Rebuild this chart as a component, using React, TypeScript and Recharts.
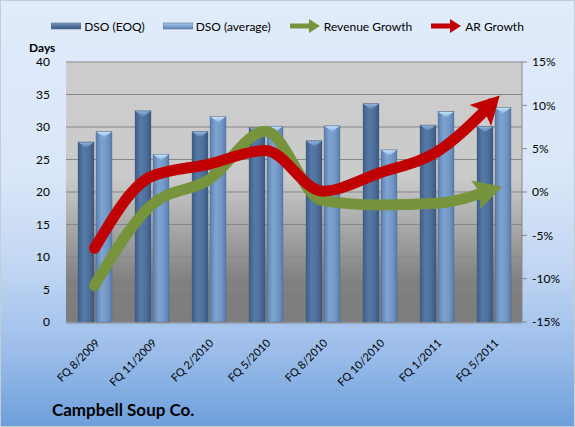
import React from "react";
import {
  ComposedChart,
  Bar,
  Line,
  XAxis,
  YAxis,
  CartesianGrid,
} from "recharts";

const categories = [
  "FQ 8/2009",
  "FQ 11/2009",
  "FQ 2/2010",
  "FQ 5/2010",
  "FQ 8/2010",
  "FQ 10/2010",
  "FQ 1/2011",
  "FQ 5/2011",
];
const dsoEoq = [27.7, 32.5, 29.3, 29.9, 27.9, 33.6, 30.3, 30.1];
const dsoAvg = [29.3, 25.8, 31.6, 30.1, 30.2, 26.5, 32.4, 33.0];
const revenueGrowth = [-10.8, -1.5, 1.4, 7.0, -1.0, -1.5, -1.3, 0.3];
const arGrowth = [-6.5, 1.8, 3.2, 4.8, 0.1, 2.2, 4.6, 10.4];
const daysTicks = [0, 5, 10, 15, 20, 25, 30, 35, 40];
const pctTicks = [-15, -10, -5, 0, 5, 10, 15];
const boundaryTicks = [0, 1, 2, 3, 4, 5, 6, 7, 8];

const data = categories.map((c, i) => ({
  name: c,
  idx: i + 0.5,
  eoq: dsoEoq[i],
  avg: dsoAvg[i],
  rev: revenueGrowth[i],
  ar: arGrowth[i],
}));

const FONT = "Lato, 'Liberation Sans', sans-serif";
const RED = "#C00000";
const GREEN = "#77933C";
const LINE_W = 11;

const makeBarShape = (grad: string, cap: string) => (props: any) => {
  const { x, y, width, height } = props;
  if (height == null || height <= 0) return null;
  return (
    <g>
      <rect x={x} y={y} width={width} height={height} fill={`url(#${grad})`} />
      <rect x={x} y={y} width={width} height={height} fill="none" stroke="rgba(60,80,110,0.35)" strokeWidth={0.8} />
      <polygon
        points={`${x + 0.5},${y + 0.5} ${x + width - 0.5},${y + 0.5} ${x + width / 2},${y + 6}`}
        fill={`url(#${cap})`}
      />
    </g>
  );
};

const makeArrowDot = (color: string, angleDeg: number, count: number) => (props: any) => {
  const { cx, cy, index } = props;
  if (cx == null || cy == null) return <g key={`d-${index}`} />;
  if (index === 0) {
    return <circle key={`d-${index}`} cx={cx} cy={cy} r={LINE_W / 2} fill={color} />;
  }
  if (index === count - 1) {
    const a = (angleDeg * Math.PI) / 180;
    const dx = Math.cos(a);
    const dy = Math.sin(a);
    const off = 9;
    const len = 28;
    const half = 15;
    const tx = cx + dx * off;
    const ty = cy + dy * off;
    const bx = tx - dx * len;
    const by = ty - dy * len;
    const px = -dy;
    const py = dx;
    const nx = tx - dx * (len - 6);
    const ny = ty - dy * (len - 6);
    const pts = [
      [tx, ty],
      [bx + px * half, by + py * half],
      [nx, ny],
      [bx - px * half, by - py * half],
    ]
      .map((p) => p.join(","))
      .join(" ");
    return <polygon key={`d-${index}`} points={pts} fill={color} />;
  }
  return <g key={`d-${index}`} />;
};

const XTick = (props: any) => {
  const { x, y, payload } = props;
  return (
    <g transform={`translate(${x + 3},${y + 10})`}>
      <text
        transform="rotate(-45)"
        textAnchor="end"
        fontSize={11}
        fontFamily={FONT}
        fill="#000"
        dy={4}
      >
        {payload.value}
      </text>
    </g>
  );
};

const LegendBarIcon = ({ light }: { light: boolean }) => (
  <svg width={30} height={8} style={{ verticalAlign: "middle" }}>
    <defs>
      <linearGradient id={light ? "lgL" : "lgD"} x1="0" y1="0" x2="0" y2="1">
        <stop offset="0" stopColor={light ? "#A9CDF0" : "#7E9CC4"} />
        <stop offset="0.5" stopColor={light ? "#7FA4D2" : "#4F6F99"} />
        <stop offset="1" stopColor={light ? "#5E84B5" : "#3B5A84"} />
      </linearGradient>
    </defs>
    <rect x={0} y={1} width={30} height={6} fill={`url(#${light ? "lgL" : "lgD"})`} stroke="#5A6F8C" strokeWidth={0.6} />
  </svg>
);

const LegendArrowIcon = ({ color }: { color: string }) => (
  <svg width={32} height={16} style={{ verticalAlign: "middle" }}>
    <path d="M1,5.5 L20,5.5 L20,1 L31,8 L20,15 L20,10.5 L1,10.5 Z" fill={color} />
  </svg>
);

const LegendContent = () => {
  const item: React.CSSProperties = {
    display: "inline-flex",
    alignItems: "center",
    gap: 3,
    fontSize: 12,
    fontFamily: FONT,
    color: "#000",
  };
  return (
    <div style={{ display: "flex", justifyContent: "center", gap: 18 }}>
      <span style={item}>
        <LegendBarIcon light={false} />
        DSO (EOQ)
      </span>
      <span style={item}>
        <LegendBarIcon light={true} />
        DSO (average)
      </span>
      <span style={item}>
        <LegendArrowIcon color={GREEN} />
        Revenue Growth
      </span>
      <span style={item}>
        <LegendArrowIcon color={RED} />
        AR Growth
      </span>
    </div>
  );
};

export default function App() {
  return (
    <div
      style={{
        position: "absolute",
        left: 0,
        top: 0,
        width: 575,
        height: 427,
        boxSizing: "border-box",
        border: "1px solid #C4CCD8",
        background:
          "linear-gradient(to bottom, #E0EBFB 0%, #DAE7F9 40%, #C2D7F3 62%, #9DBEEA 82%, #6D9FDB 100%)",
        fontFamily: FONT,
      }}
    >
      <div style={{ position: "absolute", left: 0, top: 17, width: 573 }}>
        <LegendContent />
      </div>
      <div
        style={{
          position: "absolute",
          left: 28,
          top: 39,
          fontSize: 12,
          fontWeight: 700,
          fontFamily: FONT,
        }}
      >
        Days
      </div>
      <div
        style={{
          position: "absolute",
          left: 51,
          top: 398,
          fontSize: 17,
          fontWeight: 700,
          fontFamily: FONT,
        }}
      >
        Campbell Soup Co.
      </div>
      <ComposedChart
        width={573}
        height={425}
        data={data}
        margin={{ top: 61, right: 0, bottom: 0, left: 0 }}
        barSize={16}
        barGap={2}
        style={{ position: "absolute", left: 0, top: 0 }}
      >
        <defs>
          <linearGradient id="plotBg" x1="0" y1="0" x2="0" y2="1">
            <stop offset="0" stopColor="#CDCDCD" />
            <stop offset="0.45" stopColor="#CACACA" />
            <stop offset="0.62" stopColor="#ABABAB" />
            <stop offset="0.85" stopColor="#7F7F7F" />
            <stop offset="1" stopColor="#7D7D7D" />
          </linearGradient>
          <linearGradient id="gEoq" x1="0" y1="0" x2="1" y2="0">
            <stop offset="0" stopColor="#3E5D87" />
            <stop offset="0.35" stopColor="#557AA6" />
            <stop offset="0.7" stopColor="#4D6F9B" />
            <stop offset="1" stopColor="#3A5880" />
          </linearGradient>
          <linearGradient id="gAvg" x1="0" y1="0" x2="1" y2="0">
            <stop offset="0" stopColor="#5A7FAE" />
            <stop offset="0.35" stopColor="#7FA3D1" />
            <stop offset="0.7" stopColor="#7398C7" />
            <stop offset="1" stopColor="#587DAB" />
          </linearGradient>
          <linearGradient id="capEoq" x1="0" y1="0" x2="0" y2="1">
            <stop offset="0" stopColor="#8FB2DA" />
            <stop offset="1" stopColor="#5A7EAC" />
          </linearGradient>
          <linearGradient id="capAvg" x1="0" y1="0" x2="0" y2="1">
            <stop offset="0" stopColor="#C3E1F8" />
            <stop offset="1" stopColor="#86AEDD" />
          </linearGradient>
        </defs>
        <CartesianGrid
          yAxisId="days"
          xAxisId="cat"
          vertical={false}
          stroke="#878787"
          strokeWidth={1}
          fill="url(#plotBg)"
          fillOpacity={1}
        />
        <XAxis
          xAxisId="bound"
          type="number"
          dataKey="idx"
          domain={[0, 8]}
          ticks={boundaryTicks}
          tick={false}
          axisLine={false}
          tickLine={{ stroke: "#878787" }}
          tickSize={5}
          height={1}
        />
        <XAxis
          xAxisId="cat"
          dataKey="name"
          interval={0}
          tick={<XTick />}
          tickLine={false}
          axisLine={{ stroke: "#878787" }}
          height={103}
        />
        <YAxis
          yAxisId="days"
          orientation="left"
          domain={[0, 40]}
          ticks={daysTicks}
          width={65}
          axisLine={false}
          tickLine={false}
          tickMargin={10}
          tick={{ fontSize: 12, fontFamily: FONT, fill: "#000" }}
        />
        <YAxis
          yAxisId="pct"
          orientation="right"
          domain={[-15, 15]}
          ticks={pctTicks}
          width={52}
          axisLine={{ stroke: "#878787" }}
          tickLine={{ stroke: "#878787" }}
          tickSize={5}
          tickMargin={5}
          tickFormatter={(v: number) => `${v}%`}
          tick={{ fontSize: 12, fontFamily: FONT, fill: "#000", textAnchor: "start" }}
        />
        <Bar
          xAxisId="cat"
          yAxisId="days"
          dataKey="eoq"
          name="DSO (EOQ)"
          shape={makeBarShape("gEoq", "capEoq")}
          isAnimationActive={false}
        />
        <Bar
          xAxisId="cat"
          yAxisId="days"
          dataKey="avg"
          name="DSO (average)"
          shape={makeBarShape("gAvg", "capAvg")}
          isAnimationActive={false}
        />
        <Line
          xAxisId="cat"
          yAxisId="pct"
          type="monotone"
          dataKey="rev"
          name="Revenue Growth"
          stroke={GREEN}
          strokeWidth={LINE_W}
          strokeLinecap="butt"
          dot={makeArrowDot(GREEN, -17, categories.length)}
          activeDot={false}
          isAnimationActive={false}
        />
        <Line
          xAxisId="cat"
          yAxisId="pct"
          type="monotone"
          dataKey="ar"
          name="AR Growth"
          stroke={RED}
          strokeWidth={LINE_W}
          strokeLinecap="butt"
          dot={makeArrowDot(RED, -46, categories.length)}
          activeDot={false}
          isAnimationActive={false}
        />
      </ComposedChart>
    </div>
  );
}
